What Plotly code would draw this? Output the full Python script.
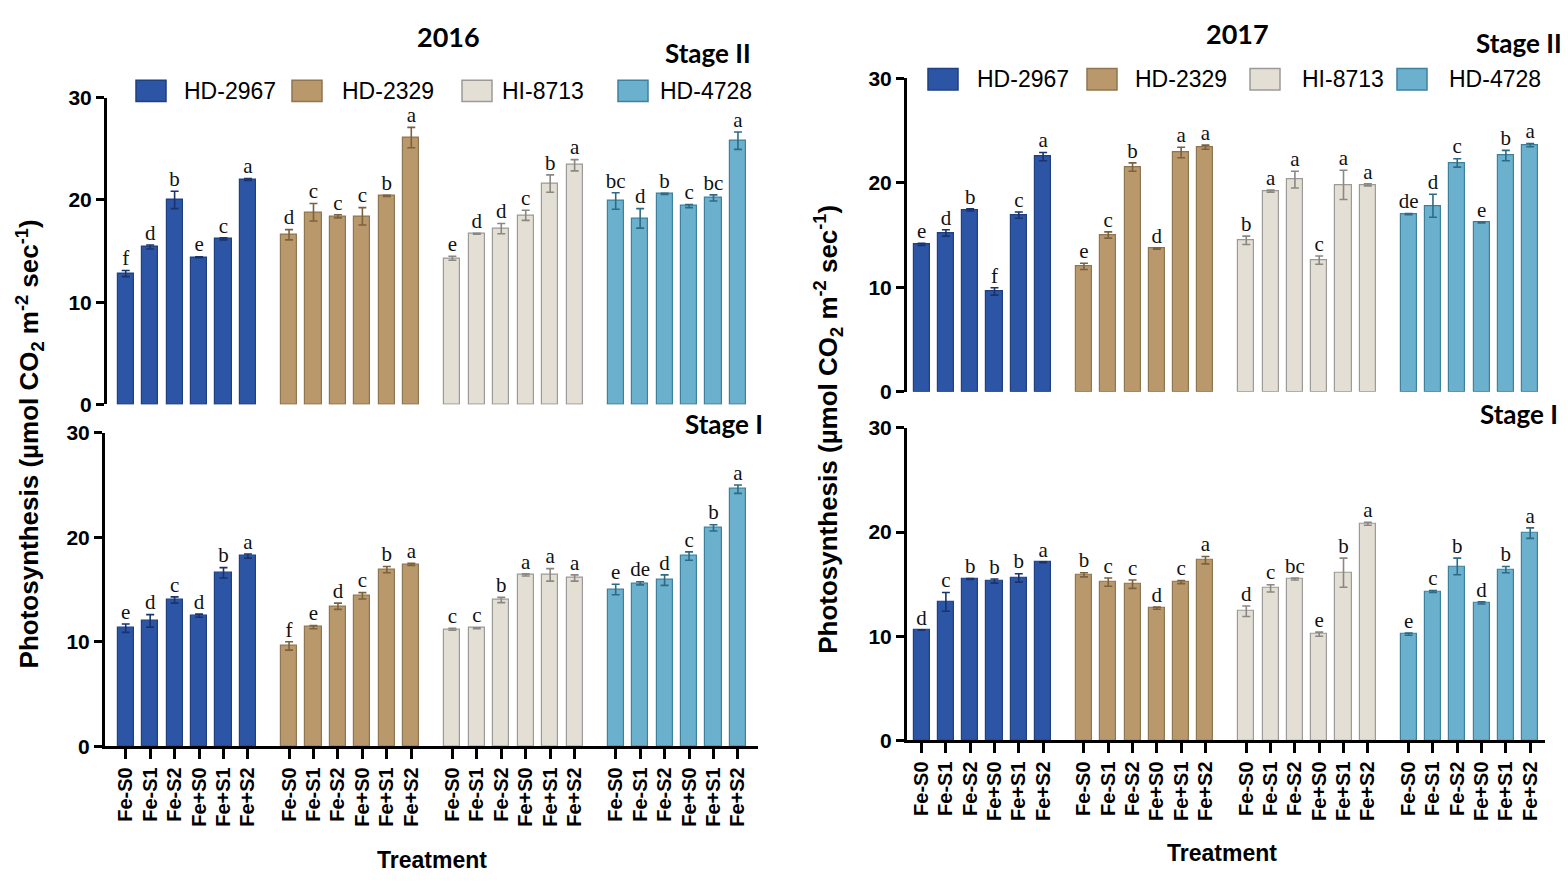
import plotly.graph_objects as go

# ---------------- data ----------------
cultivars = ["HD-2967", "HD-2329", "HI-8713", "HD-4728"]
treatments = ["Fe-S0", "Fe-S1", "Fe-S2", "Fe+S0", "Fe+S1", "Fe+S2"]

# 2016, Stage II
y2016_s2 = [
    [12.8, 15.4, 20.0, 14.4, 16.2, 22.0],
    [16.6, 18.8, 18.4, 18.4, 20.4, 26.1],
    [14.3, 16.7, 17.2, 18.5, 21.6, 23.4],
    [19.9, 18.2, 20.6, 19.4, 20.2, 25.8],
]
e2016_s2 = [
    [0.3, 0.2, 0.85, 0.05, 0.1, 0.1],
    [0.5, 0.85, 0.15, 0.85, 0.05, 1.0],
    [0.2, 0.05, 0.5, 0.5, 0.85, 0.55],
    [0.8, 0.95, 0.05, 0.15, 0.3, 0.85],
]
l2016_s2 = [
    ["f", "d", "b", "e", "c", "a"],
    ["d", "c", "c", "c", "b", "a"],
    ["e", "d", "d", "c", "b", "a"],
    ["bc", "d", "b", "c", "bc", "a"],
]

# 2016, Stage I
y2016_s1 = [
    [11.3, 12.0, 14.0, 12.5, 16.6, 18.2],
    [9.6, 11.4, 13.4, 14.4, 16.9, 17.4],
    [11.2, 11.3, 14.0, 16.4, 16.4, 16.1],
    [15.0, 15.6, 15.9, 18.2, 20.9, 24.6],
]
e2016_s1 = [
    [0.4, 0.6, 0.3, 0.15, 0.5, 0.2],
    [0.4, 0.15, 0.3, 0.3, 0.3, 0.1],
    [0.1, 0.05, 0.25, 0.1, 0.6, 0.3],
    [0.5, 0.15, 0.5, 0.4, 0.3, 0.4],
]
l2016_s1 = [
    ["e", "d", "c", "d", "b", "a"],
    ["f", "e", "d", "c", "b", "a"],
    ["c", "c", "b", "a", "a", "a"],
    ["e", "de", "d", "c", "b", "a"],
]

# 2017, Stage II
y2017_s2 = [
    [14.1, 15.2, 17.4, 9.6, 16.9, 22.5],
    [12.0, 15.0, 21.5, 13.7, 22.9, 23.4],
    [14.5, 19.2, 20.3, 12.6, 19.8, 19.8],
    [17.0, 17.8, 21.9, 16.2, 22.6, 23.6],
]
e2017_s2 = [
    [0.1, 0.3, 0.1, 0.35, 0.3, 0.4],
    [0.3, 0.3, 0.4, 0.05, 0.5, 0.2],
    [0.4, 0.1, 0.8, 0.4, 1.4, 0.1],
    [0.05, 1.1, 0.4, 0.05, 0.5, 0.15],
]
l2017_s2 = [
    ["e", "d", "b", "f", "c", "a"],
    ["e", "c", "b", "d", "a", "a"],
    ["b", "a", "a", "c", "a", "a"],
    ["de", "d", "c", "e", "b", "a"],
]

# 2017, Stage I
y2017_s1 = [
    [10.6, 13.3, 15.5, 15.3, 15.6, 17.1],
    [15.9, 15.2, 15.0, 12.7, 15.2, 17.3],
    [12.4, 14.6, 15.5, 10.2, 16.1, 20.8],
    [10.2, 14.3, 16.7, 13.2, 16.4, 19.9],
]
e2017_s1 = [
    [0.02, 0.9, 0.05, 0.2, 0.4, 0.05],
    [0.2, 0.4, 0.4, 0.1, 0.15, 0.35],
    [0.5, 0.35, 0.1, 0.2, 1.4, 0.15],
    [0.1, 0.1, 0.8, 0.1, 0.3, 0.5],
]
l2017_s1 = [
    ["d", "c", "b", "b", "b", "a"],
    ["b", "c", "c", "d", "c", "a"],
    ["d", "c", "bc", "e", "b", "a"],
    ["e", "c", "b", "d", "b", "a"],
]

y_ticks = [0, 10, 20, 30]

# ---------------- styling ----------------
W, H = 1568, 882
fill = ["#2C55A6", "#B9986B", "#E4DFD4", "#6BB0CC"]
edge = ["#1E3F80", "#8F7550", "#9C9A96", "#3E819E"]
ebar = ["#1A336A", "#7A6240", "#8A8884", "#2F6A84"]
GROUP_STEP = 6.68  # slot distance between the first bars of consecutive cultivars

SANS = "Liberation Sans, Arial, sans-serif"
SERIF = "Liberation Serif, Times New Roman, serif"
HEAD = "Lato, Open Sans, sans-serif"

def px_x(p):
    return p / W

def px_y(p):
    return 1 - p / H

positions = [[g * GROUP_STEP + i for i in range(len(treatments))] for g in range(len(cultivars))]

fig = go.Figure()

panels = [
    # (values, errors, letters, axis suffix)
    (y2016_s2, e2016_s2, l2016_s2, ""),
    (y2016_s1, e2016_s1, l2016_s1, "2"),
    (y2017_s2, e2017_s2, l2017_s2, "3"),
    (y2017_s1, e2017_s1, l2017_s1, "4"),
]

for vals, errs, lets, ax in panels:
    xa, ya = "x" + ax, "y" + ax
    for g in range(len(cultivars)):
        fig.add_trace(go.Bar(
            x=positions[g], y=vals[g], width=0.66,
            marker=dict(color=fill[g], line=dict(color=edge[g], width=1.2)),
            error_y=dict(type="data", array=errs[g], visible=True,
                         color=ebar[g], thickness=1.6, width=4),
            name=cultivars[g], showlegend=False, xaxis=xa, yaxis=ya,
        ))
        tops = [v + e for v, e in zip(vals[g], errs[g])]
        fig.add_trace(go.Scatter(
            x=positions[g], y=tops, mode="text", text=lets[g],
            textposition="top center",
            textfont=dict(family=SERIF, size=21, color="#111111"),
            showlegend=False, hoverinfo="skip", xaxis=xa, yaxis=ya,
        ))

flat_pos = [p for grp in positions for p in grp]
flat_txt = treatments * len(cultivars)

yaxis_common = dict(
    range=[0, 30], tickvals=y_ticks, showgrid=False, zeroline=False,
    showline=True, linewidth=3, linecolor="black",
    ticks="outside", ticklen=8, tickwidth=3, tickcolor="black",
    tickfont=dict(family=SANS, size=21, color="black", weight="bold"),
)
xaxis_top = dict(showgrid=False, zeroline=False, showline=False,
                 showticklabels=False, ticks="")
xaxis_bottom = dict(
    showgrid=False, zeroline=False, showline=True, linewidth=3, linecolor="black",
    ticks="outside", ticklen=10, tickwidth=3, tickcolor="black",
    tickvals=flat_pos, ticktext=flat_txt, tickangle=-90,
    tickfont=dict(family=SANS, size=20, color="black", weight="bold"),
)

# left block (2016): data x -> pixel 125.7 + 24.45 * x
fig.update_layout(
    xaxis=dict(xaxis_top, domain=[px_x(107), px_x(758)], range=[-0.765, 25.86], anchor="y"),
    yaxis=dict(yaxis_common, domain=[px_y(403), px_y(88)], anchor="x"),
    xaxis2=dict(xaxis_bottom, domain=[px_x(105), px_x(758)], range=[-0.847, 25.86], anchor="y2"),
    yaxis2=dict(yaxis_common, domain=[px_y(754), px_y(432)], anchor="x2"),
    # right block (2017): data x -> pixel 921.7 + 24.3 * x
    xaxis3=dict(xaxis_top, domain=[px_x(907), px_x(1545)], range=[-0.6, 25.65], anchor="y3"),
    yaxis3=dict(yaxis_common, domain=[px_y(390), px_y(68)], anchor="x3"),
    xaxis4=dict(xaxis_bottom, domain=[px_x(907), px_x(1545)], range=[-0.6, 25.65], anchor="y4"),
    yaxis4=dict(yaxis_common, domain=[px_y(748), px_y(427)], anchor="x4"),
)

annotations = []
shapes = []

def label(text, x, y, size, family=SANS, bold=True, xanchor="center", angle=0):
    annotations.append(dict(
        text=text, x=px_x(x), y=px_y(y), xref="paper", yref="paper",
        xanchor=xanchor, yanchor="middle", showarrow=False, textangle=angle,
        font=dict(family=family, size=size, color="black",
                  weight="bold" if bold else "normal"),
    ))

# headings and stage tags
label("2016", 448, 25, 27, HEAD)
label("2017", 1237, 22, 27, HEAD)
label("Stage II", 708, 42, 26, HEAD)
label("Stage I", 724, 423, 26, HEAD)
label("Stage II", 1519, 32, 26, HEAD)
label("Stage I", 1519, 413, 26, HEAD)

# axis titles
ytitle = "Photosynthesis (µmol CO<sub>2</sub> m<sup>-2</sup> sec<sup>-1</sup>)"
label(ytitle, 30, 444, 26, angle=-90)
label(ytitle, 828, 428, 26, angle=-90)
label("Treatment", 432, 871, 23)
label("Treatment", 1222, 864, 23)

# legend rows (swatch left edge, text left edge)
legend_rows = [
    (81, [(136, 182), (292, 340), (462, 500), (618, 658)]),
    (69, [(928, 975), (1087, 1133), (1250, 1300), (1397, 1447)]),
]
for cy, items in legend_rows:
    for g, (sx, tx) in enumerate(items):
        shapes.append(dict(
            type="rect", xref="paper", yref="paper",
            x0=px_x(sx), x1=px_x(sx + 30), y0=px_y(cy + 11), y1=px_y(cy - 11),
            fillcolor=fill[g], line=dict(color=edge[g], width=1.5),
        ))
        label(cultivars[g], tx, cy, 23, bold=False, xanchor="left")

fig.update_layout(
    width=W, height=H, autosize=False,
    margin=dict(l=0, r=0, t=0, b=0),
    paper_bgcolor="white", plot_bgcolor="white",
    barmode="overlay", bargap=0,
    annotations=annotations, shapes=shapes,
    showlegend=False,
)

fig.write_html("out.html")
